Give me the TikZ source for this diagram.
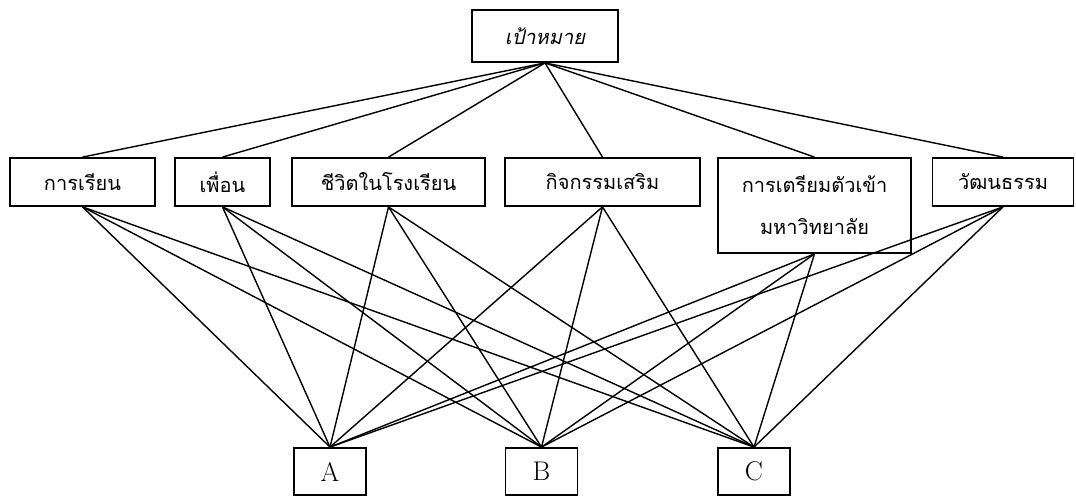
\documentclass[tikz,border=0pt]{standalone}
\usepackage{fontspec}
\newfontfamily\thaifont[Script=Thai]{Loma}

\begin{document}
\begin{tikzpicture}[x=1pt, y=1pt, line width=1.4pt]

  \tikzstyle{G}=[rectangle,draw,line width=1.8pt,minimum width=146pt,minimum height=52pt,inner sep=2pt,font=\thaifont\itshape\fontsize{20}{23}\selectfont]
  \tikzstyle{K}=[rectangle,draw,line width=1.8pt,minimum height=48pt,inner sep=2pt,font=\thaifont\fontsize{20}{23}\selectfont]
  \tikzstyle{O}=[rectangle,draw,line width=1.8pt,minimum width=72pt,minimum height=47pt,inner sep=2pt,font=\fontsize{27}{30}\selectfont]

  \useasboundingbox (0,0) rectangle (1076,498);

  \node[G] at (545,462) (goal) {เป้าหมาย};

  \node[K, minimum width=145pt] at (82.5,316) (study) {การเรียน};
  \node[K, minimum width=95pt] at (222.5,316) (friends) {เพื่อน};
  \node[K, minimum width=193pt] at (388.5,316) (schoollife) {ชีวิตในโรงเรียน};
  \node[K, minimum width=195pt] at (602.5,316) (activities) {กิจกรรมเสริม};
  \node[K, minimum width=193pt, minimum height=95pt, align=center] at (814.5,292.5) (prep) {การเตรียมตัวเข้า\\[19pt]มหาวิทยาลัย};
  \node[K, minimum width=141pt] at (1003,316) (culture) {วัฒนธรรม};

  \node[O] at (330,26.5) (A) {A};
  \node[O] at (541.5,26.5) (B) {B};
  \node[O] at (754,26.5) (C) {C};

  \draw [] (goal.south) to (study.north);
  \draw [] (goal.south) to (friends.north);
  \draw [] (goal.south) to (schoollife.north);
  \draw [] (goal.south) to (activities.north);
  \draw [] (goal.south) to (prep.north);
  \draw [] (goal.south) to (culture.north);

  \draw [] (study.south) to (A.north);
  \draw [] (study.south) to (B.north);
  \draw [] (study.south) to (C.north);
  \draw [] (friends.south) to (A.north);
  \draw [] (friends.south) to (B.north);
  \draw [] (friends.south) to (C.north);
  \draw [] (schoollife.south) to (A.north);
  \draw [] (schoollife.south) to (B.north);
  \draw [] (schoollife.south) to (C.north);
  \draw [] (activities.south) to (A.north);
  \draw [] (activities.south) to (B.north);
  \draw [] (activities.south) to (C.north);
  \draw [] (prep.south) to (A.north);
  \draw [] (prep.south) to (B.north);
  \draw [] (prep.south) to (C.north);
  \draw [] (culture.south) to (A.north);
  \draw [] (culture.south) to (B.north);
  \draw [] (culture.south) to (C.north);

\end{tikzpicture}
\end{document}
